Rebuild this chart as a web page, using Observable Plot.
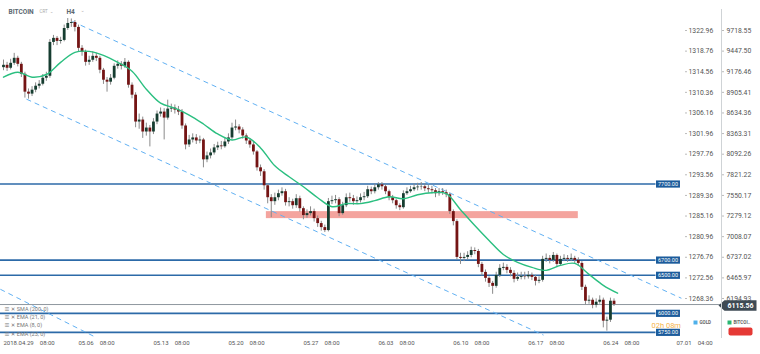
<!DOCTYPE html>
<html>
<head>
<meta charset="utf-8">
<script src="https://cdn.jsdelivr.net/npm/d3@7"></script>
<script src="https://cdn.jsdelivr.net/npm/@observablehq/plot@0.6"></script>
<style>
  html, body { margin: 0; padding: 0; background: #fff; }
  #chart { width: 760px; height: 354px; }
</style>
</head>
<body>
<div id="chart"></div>
<script>
// ---- DATA ----
// 8-hour candles starting 2018-04-29 08:00 (UTC), BTC price (USD)
const startTime = Date.UTC(2018, 3, 29, 8);
const stepHours = 8;
const firstOpen = 9230;
const close = [9261,9222,9287,9353,9274,9143,8908,8882,8934,8986,
9012,9091,9117,9562,9615,9575,9588,9745,9811,9824,
9759,9484,9431,9300,9327,9379,9353,9196,9065,9039,
9091,9248,9274,9248,9300,8999,8868,8515,8541,8384,
8436,8384,8515,8620,8646,8567,8685,8698,8672,8646,
8463,8214,8279,8306,8266,8279,8018,8070,8109,8175,
8201,8190,8253,8306,8436,8450,8410,8332,8266,8214,
8122,7913,7861,7677,7520,7468,7520,7573,7599,7455,
7468,7415,7507,7376,7285,7311,7337,7245,7180,7127,
7088,7468,7481,7494,7311,7415,7520,7507,7468,7481,
7520,7533,7625,7599,7651,7690,7664,7599,7520,7481,
7415,7389,7573,7599,7625,7651,7660,7664,7638,7625,
7612,7573,7599,7586,7559,7337,7206,6735,6722,6735,
6761,6826,6813,6643,6538,6460,6394,6355,6499,6591,
6604,6565,6525,6447,6473,6486,6480,6499,6473,6421,
6434,6709,6722,6696,6761,6643,6709,6722,6709,6722,
6696,6656,6342,6159,6172,6106,6146,6172,5897,5910,
6159,6115.56];
const high = [9330,9300,9340,9418,9380,9300,9170,8950,8980,9030,
9060,9140,9170,9600,9654,9640,9630,9790,9876,9870,
9850,9790,9520,9460,9380,9440,9420,9380,9220,9100,
9140,9280,9320,9310,9350,9320,9030,8900,8620,8580,
8500,8470,8560,8660,8700,8690,8803,8750,8740,8720,
8680,8490,8340,8360,8350,8330,8300,8120,8160,8220,
8250,8260,8300,8360,8500,8541,8480,8440,8360,8300,
8250,8140,7950,7890,7700,7560,7580,7620,7650,7630,
7520,7500,7560,7540,7400,7360,7400,7370,7280,7210,
7160,7510,7540,7550,7520,7460,7570,7580,7550,7530,
7570,7590,7670,7660,7700,7717,7720,7690,7620,7550,
7500,7440,7610,7650,7670,7700,7710,7720,7700,7680,
7670,7640,7640,7640,7620,7580,7360,7230,6790,6790,
6810,6870,6860,6840,6670,6570,6480,6420,6540,6640,
6660,6640,6600,6560,6530,6540,6540,6550,6530,6500,
6480,6750,6780,6760,6800,6780,6750,6770,6760,6780,
6750,6730,6680,6370,6230,6200,6190,6230,6200,5950,
6200,6190];
const low = [9190,9180,9200,9260,9240,9100,8830,8816,8850,8900,
8950,8990,9050,9090,9520,9520,9540,9570,9720,9760,
9700,9440,9380,9250,9260,9300,9310,9150,9010,8908,
9000,9070,9210,9200,9220,8960,8820,8440,8420,8300,
8330,8188,8350,8480,8580,8280,8540,8640,8620,8600,
8420,8150,8180,8240,8220,8230,7913,7980,8030,8080,
8140,8150,8170,8220,8280,8400,8360,8290,8220,8170,
8080,7870,7800,7620,7440,7258,7420,7480,7540,7410,
7400,7370,7380,7330,7230,7250,7280,7200,7130,7080,
7062,7070,7430,7440,7270,7290,7390,7460,7420,7430,
7450,7480,7510,7560,7570,7620,7620,7560,7480,7440,
7370,7350,7370,7550,7580,7600,7610,7620,7600,7580,
7570,7520,7540,7550,7520,7300,7150,6700,6643,6680,
6700,6730,6770,6600,6490,6410,6340,6250,6330,6470,
6560,6520,6480,6400,6420,6440,6440,6450,6430,6360,
6390,6410,6670,6650,6670,6600,6620,6680,6670,6680,
6650,6620,6300,6110,6120,6060,6070,6120,5809,5766,
5880,6090];

// Green moving average, read every 4th candle (32 h)
const maStepCandles = 4;
const maValues = [9104,9170,9104,9140,9300,9431,9444,9392,9300,9183,
8947,8764,8698,8607,8489,8358,8279,8319,8175,7939,
7795,7664,7520,7402,7442,7442,7481,7533,7507,7559,
7586,7573,7363,7154,6957,6774,6669,6604,6565,6630,
6656,6512,6368,6264];

// Horizontal levels
const levels = [7700, 6700, 6500, 6000, 5750];
const lastPrice = 6115.56;

// Resistance zone
const zone = {x1: "2018-05-23T21:00Z", x2: "2018-06-22T00:00Z", y1: 7245, y2: 7337};

// Dashed channel lines
const channelStart = ["2018-05-05T18:30Z", "2018-05-01T11:30Z", "2018-04-29T01:00Z"];
const channelStartPrice = [9837, 8816, 6316];
const channelEnd = ["2018-07-01T15:00Z", "2018-06-18T18:00Z", "2018-05-07T22:00Z"];
const channelEndPrice = [6198, 5714, 5687];

// Axis ticks
const btcTicks = [9718.55, 9447.50, 9176.46, 8905.41, 8634.36, 8363.31, 8092.26, 7821.22, 7550.17, 7279.12, 7008.07, 6737.02, 6465.97, 6194.93];
const goldTicks = ["1322.96","1318.76","1314.56","1310.36","1306.16","1301.96","1297.76","1293.56","1289.36","1285.16","1280.96","1276.76","1272.56","1268.36"];
const xTickDates = ["2018-04-29T08:00Z","2018-05-06T08:00Z","2018-05-13T08:00Z","2018-05-20T08:00Z","2018-05-27T08:00Z","2018-06-03T08:00Z","2018-06-10T08:00Z","2018-06-17T08:00Z","2018-06-24T08:00Z","2018-07-01T04:00Z"];
const xTickLabels = ["2018.04.29\u200308:00","05.06\u200308:00","05.13\u200308:00","05.20\u200308:00","05.27\u200308:00","06.03\u200308:00","06.10\u200308:00","06.17\u200308:00","06.24\u200308:00","07.01\u200304:00"];
const indicatorLines = ["☰ ✕ SMA (200, 0)", "☰ ✕ EMA (21, 0)", "☰ ✕ EMA (8, 0)", "☰ ✕ EMA (23, 0)"];

// ---- BUILD ----
const H = 3600 * 1000;
const candles = close.map((c, i) => ({
  t: new Date(startTime + i * stepHours * H),
  o: i ? close[i - 1] : firstOpen, c, h: high[i], l: low[i]
}));
const maData = maValues.map((v, k) => ({t: new Date(startTime + k * maStepCandles * stepHours * H), v}));
const channels = channelStart.map((s, i) => ({x1: new Date(s), y1: channelStartPrice[i], x2: new Date(channelEnd[i]), y2: channelEndPrice[i]}));
const xTicks = xTickDates.map((d, i) => ({t: new Date(d), label: xTickLabels[i]}));
const goldFor = new Map(btcTicks.map((v, i) => [v, goldTicks[i]]));
const lineStart = new Date("2018-04-29T00:00Z");
const levelLabelAt = new Date("2018-06-29T06:00Z");

const boxSym = {draw(ctx) { ctx.moveTo(0, -3.6); ctx.lineTo(24, -3.6); ctx.lineTo(24, 3.6); ctx.lineTo(0, 3.6); ctx.closePath(); }};
const tagSym = {draw(ctx) { ctx.moveTo(-3, 1); ctx.lineTo(3, -4.3); ctx.lineTo(35, -4.3); ctx.lineTo(35, 6.3); ctx.lineTo(3, 6.3); ctx.closePath(); }};
const sqSym = {draw(ctx) { ctx.moveTo(-2, -2); ctx.lineTo(2, -2); ctx.lineTo(2, 2); ctx.lineTo(-2, 2); ctx.closePath(); }};
const redSym = {draw(ctx) { ctx.moveTo(-10, -4); ctx.lineTo(10, -4); ctx.quadraticCurveTo(12, -4, 12, -2); ctx.lineTo(12, 2); ctx.quadraticCurveTo(12, 4, 10, 4); ctx.lineTo(-10, 4); ctx.quadraticCurveTo(-12, 4, -12, 2); ctx.lineTo(-12, -2); ctx.quadraticCurveTo(-12, -4, -10, -4); ctx.closePath(); }};

const up = "#163d30", down = "#741414";

const chart = Plot.plot({
  width: 760, height: 354,
  marginLeft: 0, marginRight: 39, marginTop: 0, marginBottom: 16,
  x: {type: "utc", domain: [new Date(startTime), new Date("2018-07-01T04:00Z")], range: [3, 676], axis: null},
  y: {domain: [6194.93, 9718.55], range: [298, 30], axis: null},
  style: {fontFamily: "Roboto, 'DejaVu Sans', sans-serif", fontSize: "7px", background: "#fff", color: "#555"},
  marks: [
    Plot.rect([zone], {x1: d => new Date(d.x1), x2: d => new Date(d.x2), y1: "y1", y2: "y2", fill: "#f4a49e"}),
    Plot.ruleY(levels, {y: d => d, x1: () => lineStart, x2: () => levelLabelAt, stroke: "#2c6aa8", strokeWidth: 1.6}),
    Plot.ruleY([lastPrice], {y: d => d, stroke: "#8f979e", strokeWidth: 1}),
    Plot.link(channels, {x1: "x1", y1: "y1", x2: "x2", y2: "y2", stroke: "#62b1f3", strokeWidth: 1, strokeDasharray: "5,4"}),
    Plot.ruleX(candles, {x: "t", y1: "l", y2: "h", stroke: "#8a8a8a", strokeWidth: 1}),
    Plot.ruleX(candles.filter(d => d.c >= d.o), {x: "t", y1: "o", y2: "c", stroke: up, strokeWidth: 2.8}),
    Plot.ruleX(candles.filter(d => d.c < d.o), {x: "t", y1: "o", y2: "c", stroke: down, strokeWidth: 2.8}),
    Plot.line(maData, {x: "t", y: "v", stroke: "#2bbf80", strokeWidth: 1.4, curve: "catmull-rom"}),
    // level labels
    Plot.dot(levels, {x: () => levelLabelAt, y: d => d, symbol: boxSym, r: 1, fill: "#1b5b9b", stroke: "none"}),
    Plot.text(levels, {x: () => levelLabelAt, y: d => d, text: d => d.toFixed(2), dx: 12, textAnchor: "middle", fill: "#fff", fontSize: 5.5}),
    // axes
    Plot.axisY({ticks: btcTicks, anchor: "right", tickSize: 2, tickPadding: 3, tickFormat: d => d.toFixed(2), fontSize: 6.8, stroke: "#bbb", fill: "#555"}),
    Plot.axisY({ticks: btcTicks, anchor: "right", dx: -37, tickSize: 2, tickPadding: 2, tickFormat: d => goldFor.get(d), fontSize: 6.8, stroke: "#bbb", fill: "#555"}),
    // price tag
    Plot.dot([lastPrice], {y: d => d, frameAnchor: "right", symbol: tagSym, r: 1, fill: "#3e4a54", stroke: "none"}),
    Plot.text([lastPrice], {y: d => d, frameAnchor: "right", dx: 19, dy: 1, textAnchor: "middle", text: d => d.toFixed(2), fill: "#fff", fontSize: 7, fontWeight: "bold"}),
    // x labels
    Plot.text(xTicks, {x: "t", text: "label", frameAnchor: "bottom", textAnchor: "start", lineAnchor: "top", dy: 2, fontSize: 6, fill: "#555"}),
    // header
    Plot.text(["BITCOIN"], {frameAnchor: "top-left", dx: 8, dy: 11, lineAnchor: "middle", textAnchor: "start", fontSize: 6.5, fontWeight: "bold", fill: "#5b6770"}),
    Plot.text(["CRT  ⌄"], {frameAnchor: "top-left", dx: 39, dy: 11, lineAnchor: "middle", textAnchor: "start", fontSize: 4.5, fill: "#aaa"}),
    Plot.text(["H4"], {frameAnchor: "top-left", dx: 66, dy: 11, lineAnchor: "middle", textAnchor: "start", fontSize: 6.5, fontWeight: "bold", fill: "#5b6770"}),
    Plot.text(["⌄"], {frameAnchor: "top-left", dx: 80, dy: 10, lineAnchor: "middle", textAnchor: "start", fontSize: 5, fill: "#aaa"}),
    // indicator legend
    Plot.text([indicatorLines.join("\n")], {frameAnchor: "bottom-left", dx: 4, dy: -3, lineAnchor: "bottom", textAnchor: "start", fontSize: 5.5, lineHeight: 1.5, fill: "#777"}),
    // countdown
    Plot.text(["02h 08m"], {frameAnchor: "bottom-right", dx: -70, dy: -13, lineAnchor: "middle", textAnchor: "start", fontSize: 7.5, fill: "#f5b34a"}),
    // series legend
    Plot.dot([0], {frameAnchor: "bottom-right", dx: -26, dy: -16, symbol: sqSym, r: 1, fill: "#4fb0ea", stroke: "none"}),
    Plot.text(["GOLD"], {frameAnchor: "bottom-right", dx: -22, dy: -16, lineAnchor: "middle", textAnchor: "start", fontSize: 4.5, fontWeight: "bold", fill: "#666"}),
    Plot.dot([0], {frameAnchor: "bottom-right", dx: 8, dy: -16, symbol: sqSym, r: 1, fill: "#2bb673", stroke: "none"}),
    Plot.text(["BITCOI.."], {frameAnchor: "bottom-right", dx: 12, dy: -16, lineAnchor: "middle", textAnchor: "start", fontSize: 4.5, fontWeight: "bold", fill: "#666"}),
    Plot.dot([0], {frameAnchor: "bottom-right", dx: 19, dy: -7, symbol: redSym, r: 1, fill: "#e53935", stroke: "none"})
  ]
});

d3.select(chart).append("line")
  .attr("x1", 721.5).attr("x2", 721.5).attr("y1", 9).attr("y2", 338)
  .attr("stroke", "#cfd3d6").attr("stroke-width", 1);

document.getElementById("chart").appendChild(chart);
</script>
</body>
</html>
